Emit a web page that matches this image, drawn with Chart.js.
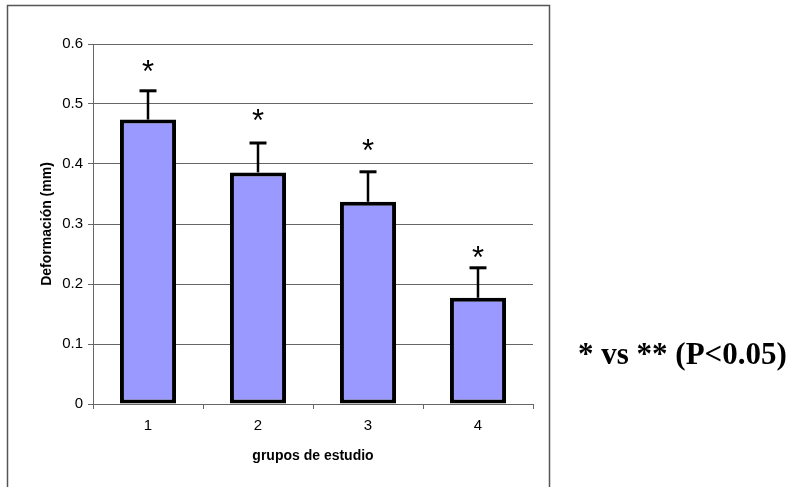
<!DOCTYPE html>
<html>
<head>
<meta charset="utf-8">
<script src="https://cdn.jsdelivr.net/npm/chart.js@4.4.1/dist/chart.umd.min.js"></script>
<style>
  html, body { margin: 0; padding: 0; background: #fff; }
</style>
</head>
<body>
<canvas id="c" width="795" height="487"></canvas>
<script>
// Study groups and mean deformation (mm) with upper error (SD)
const groups = ['1', '2', '3', '4'];
const deformation = [0.474, 0.386, 0.337, 0.177];
const errorUp = [0.048, 0.049, 0.050, 0.050];
// Height (in mm units) where the significance asterisk sits
const markerLevel = [0.560, 0.478, 0.428, 0.250];
const markerText = ['*', '*', '*', '*'];
const yTicks = [0, 0.1, 0.2, 0.3, 0.4, 0.5, 0.6];
const noteText = '* vs ** (P<0.05)';

const SANS = '"Liberation Sans", Arial, sans-serif';

const frame = {
  id: 'frame',
  beforeDraw(chart) {
    const ctx = chart.ctx;
    ctx.save();
    ctx.fillStyle = '#fff';
    ctx.fillRect(0, 0, chart.width, chart.height);
    ctx.strokeStyle = '#555';
    ctx.lineWidth = 1.5;
    ctx.strokeRect(7.5, 5.5, 542, 500);
    ctx.restore();
  },
  afterDraw(chart) {
    const ctx = chart.ctx;
    ctx.save();
    ctx.fillStyle = '#000';
    ctx.font = 'bold 31px "Liberation Serif", "Times New Roman", serif';
    ctx.textAlign = 'left';
    ctx.textBaseline = 'alphabetic';
    ctx.fillText(noteText, 578, 364);
    ctx.restore();
  }
};

const errorBars = {
  id: 'errorBars',
  afterDatasetsDraw(chart) {
    const ctx = chart.ctx;
    const y = chart.scales.y;
    const meta = chart.getDatasetMeta(0);
    ctx.save();
    meta.data.forEach((bar, i) => {
      const top = y.getPixelForValue(deformation[i]);
      const cap = y.getPixelForValue(deformation[i] + errorUp[i]);
      ctx.strokeStyle = '#000';
      ctx.lineWidth = 2.5;
      ctx.beginPath();
      ctx.moveTo(bar.x, top);
      ctx.lineTo(bar.x, cap);
      ctx.stroke();
      ctx.lineWidth = 3;
      ctx.beginPath();
      ctx.moveTo(bar.x - 8.5, cap);
      ctx.lineTo(bar.x + 8.5, cap);
      ctx.stroke();
      ctx.fillStyle = '#000';
      ctx.font = '31px ' + SANS;
      ctx.textAlign = 'center';
      ctx.textBaseline = 'middle';
      ctx.fillText(markerText[i], bar.x, y.getPixelForValue(markerLevel[i]) + 5);
    });
    ctx.restore();
  }
};

new Chart(document.getElementById('c'), {
  type: 'bar',
  data: {
    labels: groups,
    datasets: [{
      data: deformation,
      backgroundColor: '#9999ff',
      borderColor: '#000',
      borderWidth: 4,
      borderSkipped: false,
      barPercentage: 0.51,
      categoryPercentage: 1
    }]
  },
  options: {
    responsive: false,
    animation: false,
    layout: { padding: { left: 32, top: 44, right: 262, bottom: 18 } },
    plugins: { legend: { display: false }, tooltip: { enabled: false } },
    scales: {
      x: {
        offset: true,
        afterFit(s) { s.height = 65; },
        grid: { drawOnChartArea: false, drawTicks: true, tickLength: 5, color: '#666', offset: true },
        border: { color: '#666', width: 1 },
        ticks: { color: '#000', font: { family: SANS, size: 15 }, padding: 8 },
        title: {
          display: true, text: 'grupos de estudio', color: '#000',
          font: { family: SANS, size: 14, weight: 'bold' },
          padding: { top: 6 }
        }
      },
      y: {
        min: 0, max: 0.6,
        afterFit(s) { s.width = 61; },
        afterBuildTicks(s) { s.ticks = yTicks.map(v => ({ value: v })); },
        grid: { color: '#666', lineWidth: 1, tickLength: 5 },
        border: { color: '#666', width: 1 },
        ticks: {
          color: '#000', padding: 5,
          font: { family: SANS, size: 15 },
          callback: v => String(Math.round(v * 10) / 10)
        },
        title: {
          display: true, text: 'Deformación (mm)', color: '#000',
          font: { family: SANS, size: 14, weight: 'bold' },
          padding: { top: 7, bottom: 0 }
        }
      }
    }
  },
  plugins: [frame, errorBars]
});
</script>
</body>
</html>
